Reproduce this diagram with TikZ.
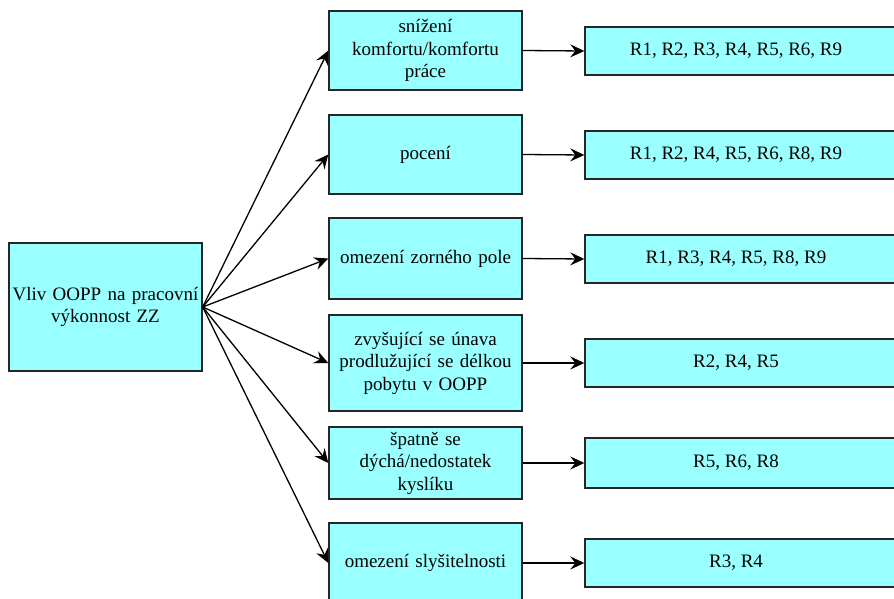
\documentclass[tikz,border=0pt]{standalone}
\usepackage{fontspec}
\setmainfont{Liberation Serif}
\newfontfamily\tnr{Liberation Serif}
\usetikzlibrary{arrows.meta}
\definecolor{boxcyan}{HTML}{99FFFF}
\begin{document}
\begin{tikzpicture}[x=1pt,y=-1pt,
  box/.style={draw=black!85,fill=boxcyan,line width=1.4pt,inner sep=0pt,
    align=center,font=\tnr\fontsize{19}{22.5}\selectfont},
  conn/.style={line width=1.3pt,-{Stealth[length=14pt,width=13pt,inset=5pt]}}]
\useasboundingbox (0,0) rectangle (894,599);
\clip (0,0) rectangle (894,599);
% left box
\node[box,minimum width=193pt,minimum height=128pt,text width=190pt] (L) at (105.5,307) {Vliv OOPP na pracovní\\výkonnost ZZ};
% middle boxes
\node[box,minimum width=193pt,minimum height=79pt,text width=190pt] (M1) at (425.5,50.5) {snížení\\komfortu/komfortu\\práce};
\node[box,minimum width=193pt,minimum height=79pt,text width=190pt] (M2) at (425.5,154.5) {pocení};
\node[box,minimum width=193pt,minimum height=81pt,text width=190pt] (M3) at (425.5,258.5) {omezení zorného pole};
\node[box,minimum width=193pt,minimum height=96pt,text width=190pt] (M4) at (425.5,363) {zvyšující se únava\\prodlužující se délkou\\pobytu v OOPP};
\node[box,minimum width=193pt,minimum height=72pt,text width=190pt] (M5) at (425.5,463) {špatně se\\dýchá/nedostatek\\kyslíku};
\node[box,minimum width=193pt,minimum height=80pt,text width=190pt] (M6) at (425.5,563) {omezení slyšitelnosti};
% right boxes
\node[box,minimum width=314pt,minimum height=48pt] (R1) at (742,51) {R1, R2, R3, R4, R5, R6, R9\hspace*{12pt}};
\node[box,minimum width=314pt,minimum height=48pt] (R2) at (742,155) {R1, R2, R4, R5, R6, R8, R9\hspace*{12pt}};
\node[box,minimum width=314pt,minimum height=48pt] (R3) at (742,259) {R1, R3, R4, R5, R8, R9\hspace*{12pt}};
\node[box,minimum width=314pt,minimum height=48pt] (R4) at (742,363) {R2, R4, R5\hspace*{12pt}};
\node[box,minimum width=314pt,minimum height=50pt] (R5) at (742,463) {R5, R6, R8\hspace*{12pt}};
\node[box,minimum width=314pt,minimum height=48pt] (R6) at (742,563) {R3, R4\hspace*{12pt}};
% connectors
\foreach \i in {1,...,6}{
  \draw[conn] (L.east) -- (M\i.west);
  \draw[conn] (M\i.east) -- (R\i.west);
}
\end{tikzpicture}
\end{document}
